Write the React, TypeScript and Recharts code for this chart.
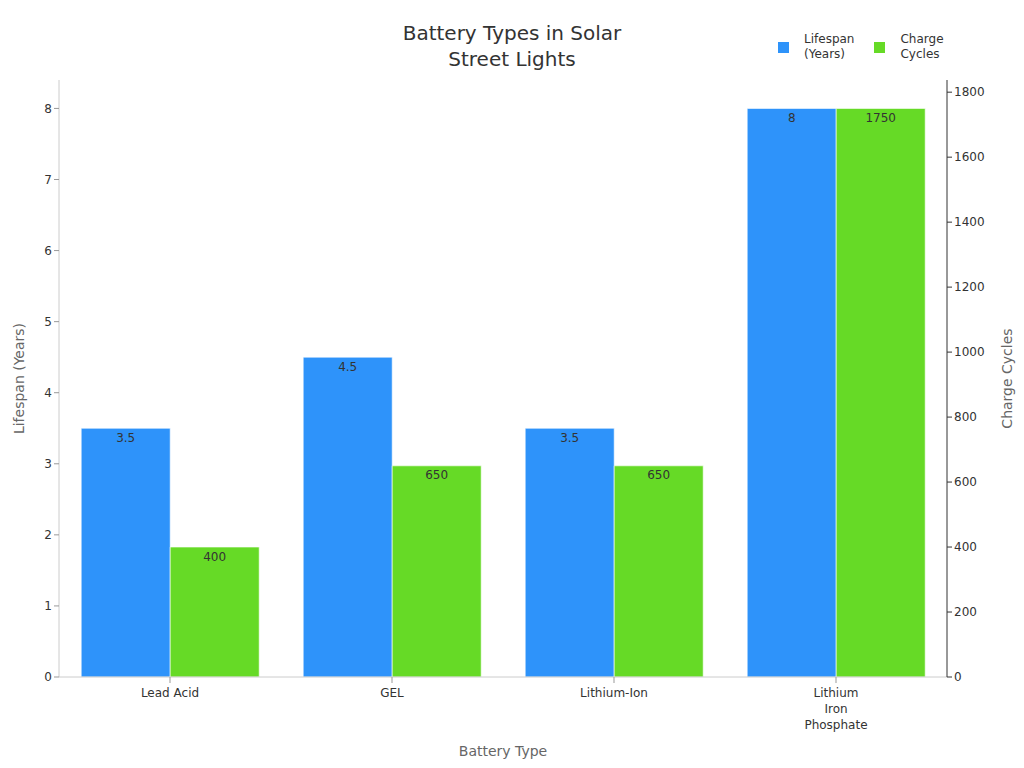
import { Bar, BarChart, LabelList, Text, XAxis, YAxis } from 'recharts';

const batteryTypes = ['Lead Acid', 'GEL', 'Lithium-Ion', 'Lithium Iron Phosphate'];
const lifespanYears = [3.5, 4.5, 3.5, 8];
const chargeCycles = [400, 650, 650, 1750];
const lifespanTicks = [0, 1, 2, 3, 4, 5, 6, 7, 8];
const cycleTicks = [0, 200, 400, 600, 800, 1000, 1200, 1400, 1600, 1800];

const data = batteryTypes.map((name, i) => ({
  name,
  lifespan: lifespanYears[i],
  cycles: chargeCycles[i],
}));

const BLUE = '#2E93FA';
const GREEN = '#66DA26';
const FONT = '"DejaVu Sans", sans-serif';

const legendItems = [
  { color: BLUE, lines: ['Lifespan', '(Years)'] },
  { color: GREEN, lines: ['Charge', 'Cycles'] },
];

const CategoryTick = (props: any) => {
  const { x, y, payload } = props;
  return (
    <Text
      x={x}
      y={y + 3}
      width={70}
      textAnchor="middle"
      verticalAnchor="start"
      lineHeight={16}
      fontSize={12}
      fill="#333"
      fontFamily={FONT}
    >
      {payload.value}
    </Text>
  );
};

const ChartLegend = () => (
  <div
    style={{
      position: 'absolute',
      left: 778,
      top: 32,
      display: 'flex',
      fontFamily: FONT,
      fontSize: 12,
      color: '#333',
    }}
  >
    {legendItems.map((it) => (
      <div key={it.lines[0]} style={{ display: 'flex', alignItems: 'center', marginRight: 20 }}>
        <div style={{ width: 11, height: 11, background: it.color, marginRight: 15 }} />
        <div style={{ lineHeight: '15px' }}>
          {it.lines.map((l) => (
            <div key={l}>{l}</div>
          ))}
        </div>
      </div>
    ))}
  </div>
);

export default function App() {
  return (
    <div style={{ position: 'absolute', left: 0, top: 0, width: 1024, height: 768, background: '#fff' }}>
      <div
        style={{
          position: 'absolute',
          left: 0,
          top: 20,
          width: 1024,
          textAlign: 'center',
          fontFamily: FONT,
          fontSize: 20,
          lineHeight: '26px',
          color: '#333',
          zIndex: 1,
        }}
      >
        Battery Types in Solar
        <br />
        Street Lights
      </div>
      <ChartLegend />
      <BarChart
        width={1024}
        height={768}
        data={data}
        margin={{ top: 80, right: 0, bottom: 0, left: 0 }}
        barCategoryGap="10%"
        barGap={0}
      >
        <XAxis
          dataKey="name"
          height={91}
          tick={<CategoryTick />}
          tickLine={{ stroke: '#999' }}
          axisLine={{ stroke: '#ccc' }}
          interval={0}
          label={{
            value: 'Battery Type',
            position: 'insideBottom',
            offset: 12,
            fill: '#666',
            fontSize: 14,
            fontFamily: FONT,
          }}
        />
        <YAxis
          yAxisId="left"
          width={59}
          domain={[0, 8.4]}
          ticks={lifespanTicks}
          tick={{ fill: '#333', fontSize: 12, fontFamily: FONT }}
          tickLine={{ stroke: '#999' }}
          axisLine={{ stroke: '#ccc' }}
          tickSize={5}
          label={{
            value: 'Lifespan (Years)',
            angle: -90,
            position: 'center',
            dx: -10,
            fill: '#666',
            fontSize: 14,
            fontFamily: FONT,
          }}
        />
        <YAxis
          yAxisId="right"
          orientation="right"
          width={77}
          domain={[0, 1837.5]}
          ticks={cycleTicks}
          tick={{ fill: '#333', fontSize: 12, fontFamily: FONT }}
          tickLine={{ stroke: '#333' }}
          axisLine={{ stroke: '#333' }}
          tickSize={5}
          label={{
            value: 'Charge Cycles',
            angle: -90,
            position: 'center',
            dx: 22,
            fill: '#666',
            fontSize: 14,
            fontFamily: FONT,
          }}
        />
        <Bar
          yAxisId="left"
          dataKey="lifespan"
          name="Lifespan (Years)"
          fill={BLUE}
          stroke="rgba(255,255,255,0.6)"
          strokeWidth={1}
          isAnimationActive={false}
        >
          <LabelList dataKey="lifespan" position="insideTop" fill="#333" fontSize={12} fontFamily={FONT} />
        </Bar>
        <Bar
          yAxisId="right"
          dataKey="cycles"
          name="Charge Cycles"
          fill={GREEN}
          stroke="rgba(255,255,255,0.6)"
          strokeWidth={1}
          isAnimationActive={false}
        >
          <LabelList dataKey="cycles" position="insideTop" fill="#333" fontSize={12} fontFamily={FONT} />
        </Bar>
      </BarChart>
    </div>
  );
}
